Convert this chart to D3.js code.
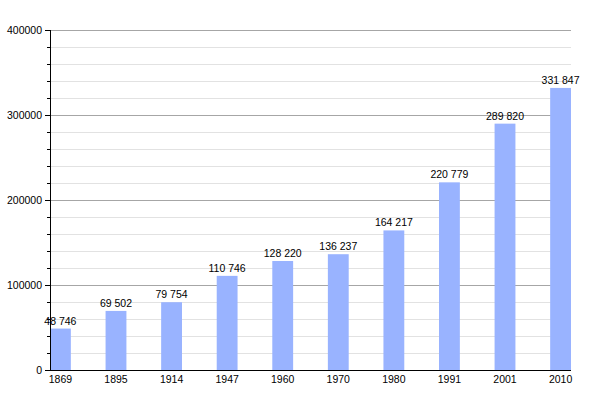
<!DOCTYPE html>
<html><head><meta charset="utf-8">
<script src="https://cdn.jsdelivr.net/npm/d3@7"></script>
<style>body{margin:0;background:#fff}svg{display:block}text{font-family:"Liberation Sans",Arial,sans-serif;font-size:10.5px;fill:#000}</style>
</head><body>
<script>
const years = ["1869","1895","1914","1947","1960","1970","1980","1991","2001","2010"];
const population = [48746,69502,79754,110746,128220,136237,164217,220779,289820,331847];
const labels = ["48 746","69 502","79 754","110 746","128 220","136 237","164 217","220 779","289 820","331 847"];
const majorTicks = [0,100000,200000,300000,400000];

const W=600,H=400, L=50, R=571, T=30, B=370;
const svg=d3.select("body").append("svg").attr("width",W).attr("height",H);
const y=d3.scaleLinear().domain([0,400000]).range([B,T]);
const x=d3.scaleBand().domain(years).range([L,R]).paddingInner(0.625).paddingOuter(0);
const minor=d3.range(0,400001,20000);

svg.append("g").selectAll("line").data(minor.filter(v=>v%100000!==0)).join("line")
 .attr("x1",L).attr("x2",R).attr("y1",d=>Math.round(y(d))+0.5).attr("y2",d=>Math.round(y(d))+0.5)
 .attr("stroke","#e2e2e2");
svg.append("g").selectAll("line").data(majorTicks.filter(v=>v>0)).join("line")
 .attr("x1",L).attr("x2",R).attr("y1",d=>Math.round(y(d))+0.5).attr("y2",d=>Math.round(y(d))+0.5)
 .attr("stroke","#a6a6a6");

svg.append("g").selectAll("rect").data(population).join("rect")
 .attr("x",(d,i)=>x(years[i])).attr("width",x.bandwidth())
 .attr("y",d=>y(d)).attr("height",d=>B-y(d)).attr("fill","#99b3ff");

svg.append("g").selectAll("text").data(population).join("text")
 .attr("x",(d,i)=>x(years[i])+x.bandwidth()/2).attr("y",d=>y(d)-4)
 .attr("text-anchor","middle").text((d,i)=>labels[i]);

// y axis
svg.append("g").selectAll("line").data(minor).join("line")
 .attr("x1",d=>d%100000===0?45:47).attr("x2",L)
 .attr("y1",d=>Math.round(y(d))+0.5).attr("y2",d=>Math.round(y(d))+0.5).attr("stroke","#000");
svg.append("line").attr("x1",L+0.5).attr("x2",L+0.5).attr("y1",T).attr("y2",B).attr("stroke","#000");
svg.append("g").selectAll("text").data(majorTicks).join("text")
 .attr("x",42).attr("y",d=>y(d)+4).attr("text-anchor","end").text(d=>String(d));

// x axis
svg.append("line").attr("x1",L).attr("x2",R).attr("y1",B+0.5).attr("y2",B+0.5).attr("stroke","#000");
svg.append("g").selectAll("text").data(years).join("text")
 .attr("x",d=>x(d)+x.bandwidth()/2).attr("y",383).attr("text-anchor","middle").text(d=>d);
</script>
</body></html>
